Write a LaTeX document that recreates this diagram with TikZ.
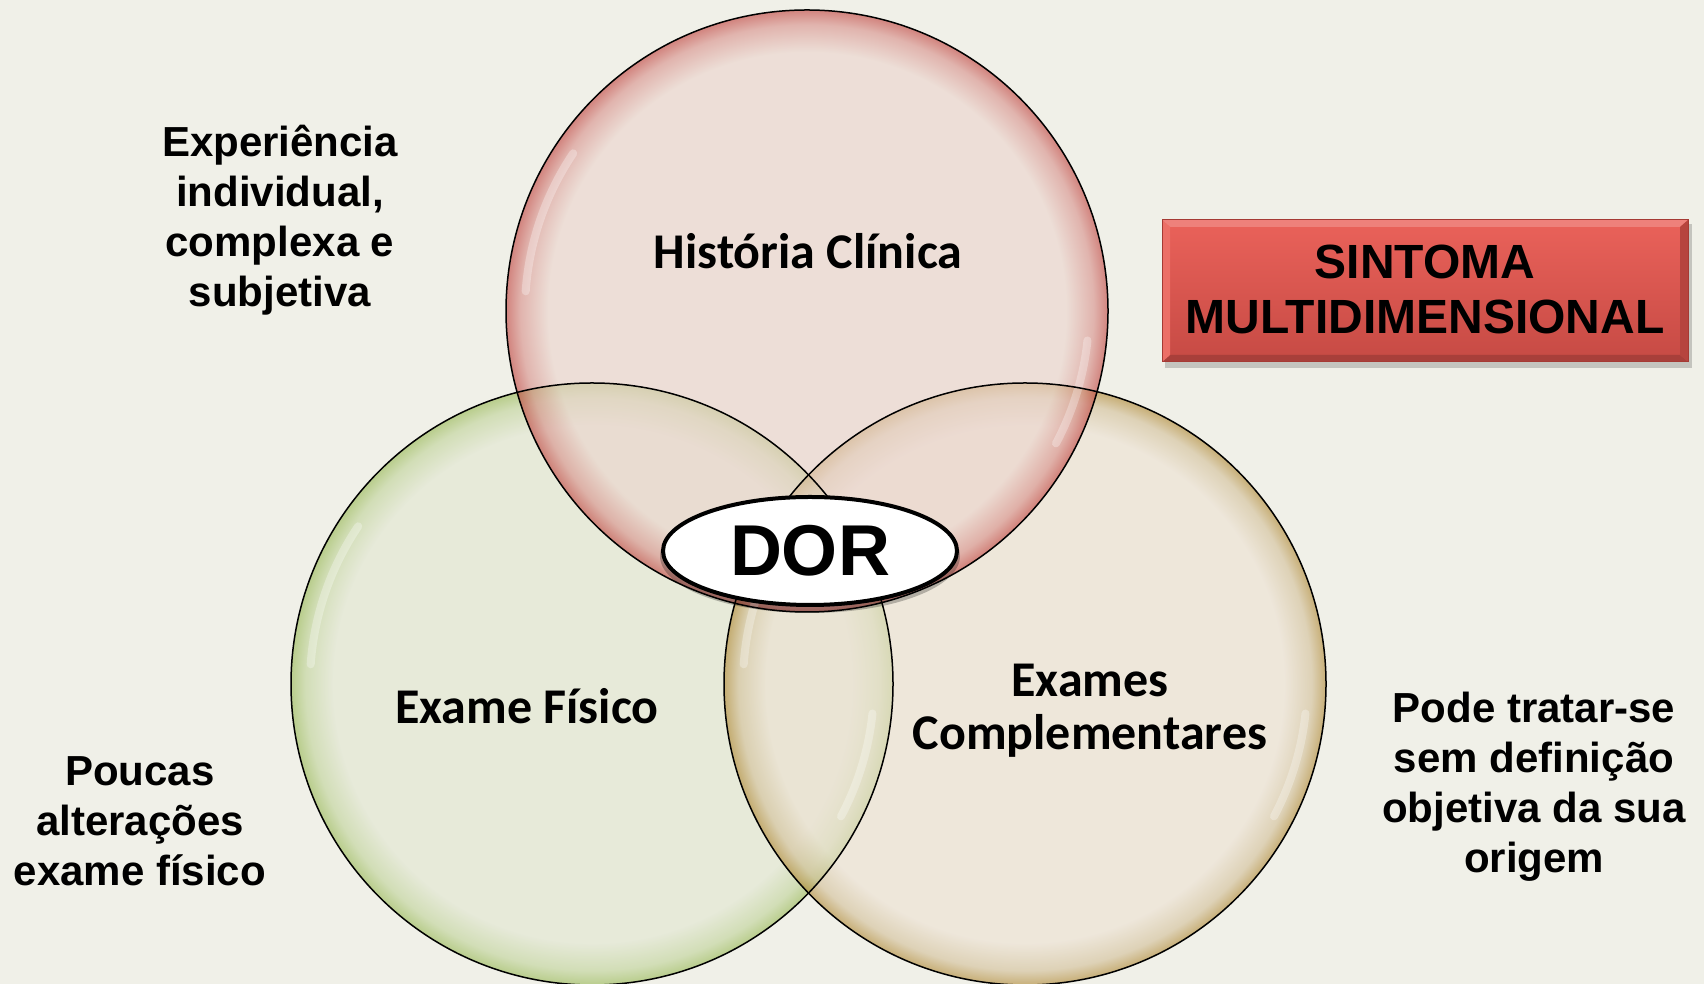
\documentclass[tikz,border=0pt]{standalone}
\usepackage{fontspec}
\setmainfont{Liberation Sans}
\newfontfamily\calibri{Carlito}
\usetikzlibrary{shapes.geometric}

\definecolor{bg}{RGB}{240,240,232}
\definecolor{redin}{RGB}{235,211,204}
\definecolor{redmid}{RGB}{215,140,135}
\definecolor{redrim}{RGB}{190,60,56}
\definecolor{grnin}{RGB}{225,230,208}
\definecolor{grnmid}{RGB}{190,210,150}
\definecolor{grnrim}{RGB}{148,182,79}
\definecolor{tanin}{RGB}{237,225,210}
\definecolor{tanmid}{RGB}{210,190,150}
\definecolor{tanrim}{RGB}{173,132,45}
\definecolor{boxtop}{RGB}{234,98,90}
\definecolor{boxbot}{RGB}{198,74,68}
\definecolor{boxedge}{RGB}{165,58,52}

\pgfdeclareradialshading{redglass}{\pgfpoint{0bp}{0bp}}{color(0bp)=(redin); color(21.5bp)=(redin); color(23.8bp)=(redmid); color(25bp)=(redrim); color(50bp)=(redrim)}
\pgfdeclareradialshading{grnglass}{\pgfpoint{0bp}{0bp}}{color(0bp)=(grnin); color(21.5bp)=(grnin); color(23.8bp)=(grnmid); color(25bp)=(grnrim); color(50bp)=(grnrim)}
\pgfdeclareradialshading{tanglass}{\pgfpoint{0bp}{0bp}}{color(0bp)=(tanin); color(21.5bp)=(tanin); color(23.8bp)=(tanmid); color(25bp)=(tanrim); color(50bp)=(tanrim)}

\tikzset{
  glass/.style={fill opacity=0.6},
  rimline/.style={draw=black, line width=1.5},
  glint/.style={draw=white, line width=8, opacity=0.3, line cap=round},
  sidetext/.style={align=center, anchor=base, font=\fontsize{42}{50}\selectfont\bfseries},
  circtext/.style={align=center, anchor=base, font=\calibri\fontsize{50}{53}\selectfont\bfseries},
}

\begin{document}
\begin{tikzpicture}[x=1pt,y=1pt]
\useasboundingbox (0,0) rectangle (1704,984);
\fill[bg] (0,0) rectangle (1704,984);

\coordinate (redc) at (807,673);
\coordinate (grnc) at (592,300);
\coordinate (tanc) at (1025,300);

% circles
\shade[shading=grnglass, glass] (grnc) circle[radius=301];
\shade[shading=tanglass, glass] (tanc) circle[radius=301];
\shade[shading=redglass, glass] (redc) circle[radius=301];

\foreach \c in {grnc,tanc,redc}{
  \draw[glint] ([shift={(146:282)}]\c) arc[start angle=146, end angle=176, radius=282];
  \draw[glint] ([shift={(-28:282)}]\c) arc[start angle=-28, end angle=-6, radius=282];
}

\draw[rimline] (grnc) circle[radius=301];
\draw[rimline] (tanc) circle[radius=301];
\draw[rimline] (redc) circle[radius=301];

% circle labels
\node[circtext] (hist) at (808,715) {História Clínica};
\node[circtext] (fis) at (527,260) {Exame Físico};
\node[circtext] (comp) at (1090,234) {Exames\\Complementares};

% DOR
\fill[black, opacity=0.25] (810,428) ellipse[x radius=150, y radius=57];
\node[ellipse, draw=black, line width=4, fill=white, minimum width=294, minimum height=108, inner sep=0,
      font=\fontsize{72}{72}\selectfont\bfseries] (dor) at (810,433) {DOR};

% side texts (anchor = baseline of last line)
\node[sidetext] (exp) at (280,677) {Experiência\\individual,\\complexa e\\subjetiva};
\node[sidetext] (pouc) at (140,98) {Poucas\\alterações\\exame físico};
\node[sidetext] (pode) at (1534,111) {Pode tratar-se\\sem definição\\objetiva da sua\\origem};

% red box
\fill[black, opacity=0.18] (1165,616) rectangle (1692,760);
\shade[top color=boxtop, bottom color=boxbot] (1162,622) rectangle (1688,764);
\fill[boxtop!80!white] (1162,764) -- (1688,764) -- (1680,757) -- (1170,757) -- cycle;
\fill[boxbot!85!black] (1162,622) -- (1688,622) -- (1680,629) -- (1170,629) -- cycle;
\fill[boxbot!92!black] (1688,622) -- (1688,764) -- (1680,757) -- (1680,629) -- cycle;
\fill[boxtop!92!white] (1162,622) -- (1162,764) -- (1170,757) -- (1170,629) -- cycle;
\draw[boxedge, line width=1] (1162,622) rectangle (1688,764);
\node[align=center, anchor=base, font=\fontsize{48}{55}\selectfont\bfseries] (sint) at (1425,650) {SINTOMA\\MULTIDIMENSIONAL};
\end{tikzpicture}
\end{document}
